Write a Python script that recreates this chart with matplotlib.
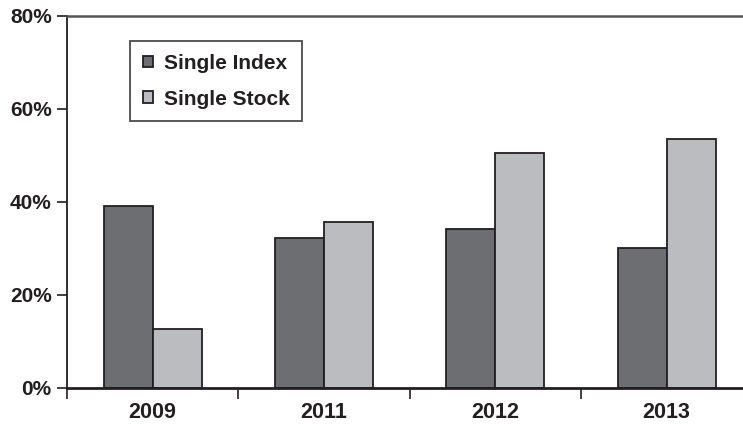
import matplotlib
matplotlib.use("Agg")
import matplotlib.pyplot as plt
import numpy as np
from matplotlib.ticker import FixedLocator, FuncFormatter

years = ["2009", "2011", "2012", "2013"]
single_index = [39.0, 32.1, 34.1, 30.0]
single_stock = [12.7, 35.6, 50.4, 53.5]
series_names = ["Single Index", "Single Stock"]
y_ticks = [0, 20, 40, 60, 80]

dark_fill = "#6d6e72"
light_fill = "#bbbcc0"
ink = "#231f20"

plt.rcParams["font.family"] = ["Liberation Sans", "DejaVu Sans"]
plt.rcParams["font.weight"] = "bold"

fig = plt.figure(figsize=(7.43, 4.24), dpi=100)
ax = fig.add_axes([0.0902, 0.0856, 0.9098, 0.8774])

x = np.arange(len(years))
w = 0.286
ax.bar(x - w / 2, single_index, width=w, color=dark_fill, edgecolor=ink,
       linewidth=1.3, label=series_names[0], zorder=2)
ax.bar(x + w / 2, single_stock, width=w, color=light_fill, edgecolor=ink,
       linewidth=1.3, label=series_names[1], zorder=2)

ax.set_xlim(-0.5, 3.446)
ax.set_ylim(0, 80)

ax.set_yticks(y_ticks)
ax.yaxis.set_major_formatter(FuncFormatter(lambda v, p: f"{v:.0f}%"))
ax.tick_params(axis="y", direction="out", length=7, width=1.2, color=ink,
               labelsize=15, labelcolor=ink, pad=4)

ax.set_xticks(x)
ax.set_xticklabels(years)
ax.xaxis.set_minor_locator(FixedLocator(np.arange(len(years)) - 0.5))
ax.tick_params(axis="x", which="major", length=0, labelsize=15.5,
               labelcolor=ink, pad=10)
ax.tick_params(axis="x", which="minor", direction="out", length=8,
               width=1.2, color=ink)

for lbl in ax.get_xticklabels() + ax.get_yticklabels():
    lbl.set_fontweight("bold")

ax.spines["right"].set_visible(False)
ax.spines["left"].set_color(ink)
ax.spines["left"].set_linewidth(1.3)
ax.spines["bottom"].set_color(ink)
ax.spines["bottom"].set_linewidth(2.0)
ax.spines["top"].set_color("#555555")
ax.spines["top"].set_linewidth(1.8)

leg = ax.legend(loc="upper left", bbox_to_anchor=(0.0932, 0.932),
                borderaxespad=0, frameon=True, fancybox=False,
                edgecolor=ink, handlelength=0.5, handleheight=0.5,
                handletextpad=0.5, labelspacing=0.8, borderpad=0.62,
                prop={"size": 15, "weight": "bold"})
leg.get_frame().set_linewidth(1.3)
for t in leg.get_texts():
    t.set_color(ink)

fig.savefig("out.png", dpi=100)
